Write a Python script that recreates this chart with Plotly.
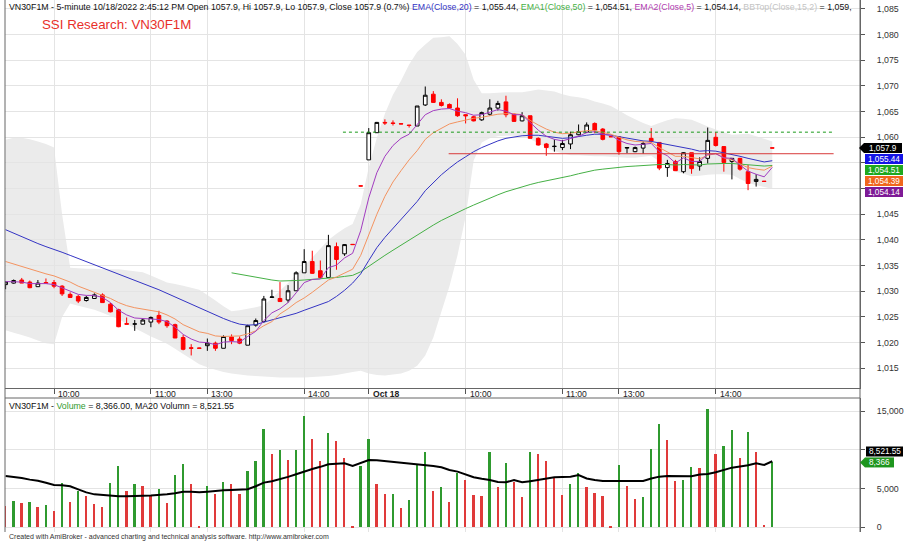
import plotly.graph_objects as go

# ---------------- data ----------------
opens = [1031.3,1031.6,1032.2,1031.8,1030.9,1031.7,1031.7,1031.0,1029.4,1029.0,
         1028.2,1028.6,1029.3,1027.5,1026.4,1023.7,1023.6,1023.6,1024.0,1025.3,
         1024.2,1023.5,1021.0,1019.0,1018.95,1019.4,1019.9,1018.9,1021.1,1020.7,
         1019.5,1023.4,1024.1,1028.8,1028.6,1028.3,1030.1,1033.6,1035.8,1034.0,
         1032.7,1038.7,1037.3,1039.15,1050.55,1055.6,1060.9,1062.9,1062.8,1062.65,
         1062.4,1062.2,1066.3,1068.4,1066.8,1066.4,1065.7,1064.4,1064.0,1063.4,
         1064.5,1065.7,1066.9,1064.5,1063.2,1064.2,1059.8,1058.7,1058.2,1058.0,
         1058.7,1060.5,1061.0,1062.7,1061.6,1060.15,1060.1,1057.9,1057.2,1057.9,
         1059.8,1059.0,1054.1,1055.3,1053.3,1057.0,1054.4,1055.9,1060.0,1058.2,
         1055.3,1055.9,1053.3,1051.4,1051.45,1057.95]
highs = [1031.9,1032.3,1032.6,1032.1,1032.2,1032.5,1032.2,1031.2,1029.8,1029.3,
         1029.1,1029.6,1029.6,1027.7,1026.6,1024.9,1024.4,1024.7,1025.1,1026.2,
         1024.4,1023.7,1021.5,1019.7,1019.0,1020.8,1020.2,1021.4,1021.6,1021.2,
         1023.5,1024.7,1029.1,1030.3,1031.8,1031.2,1033.9,1038.2,1037.9,1036.0,
         1041.0,1039.5,1039.2,1039.2,1050.55,1061.8,1063.0,1063.5,1063.3,1062.65,
         1062.4,1066.1,1069.9,1069.0,1067.4,1066.6,1067.6,1064.5,1064.2,1065.0,
         1067.4,1067.1,1068.1,1064.7,1064.9,1064.2,1060.0,1058.9,1059.6,1059.5,
         1061.1,1062.5,1062.9,1062.9,1061.8,1060.15,1060.1,1058.1,1058.2,1059.2,
         1061.8,1059.0,1055.6,1055.6,1057.1,1057.0,1056.1,1061.9,1061.0,1058.2,
         1055.9,1056.0,1054.6,1052.8,1051.45,1057.95]
lows = [1030.4,1031.5,1031.6,1030.6,1030.9,1031.6,1030.6,1029.1,1028.7,1027.7,
        1028.0,1028.5,1027.8,1025.9,1023.0,1023.6,1022.3,1023.5,1023.0,1023.6,
        1022.9,1020.9,1018.5,1017.5,1018.9,1018.4,1018.4,1018.9,1019.7,1019.7,
        1019.5,1023.1,1023.9,1028.8,1028.0,1027.8,1030.1,1033.6,1033.4,1032.5,
        1032.7,1034.2,1036.9,1039.1,1050.5,1055.6,1060.9,1062.4,1062.3,1062.6,
        1061.9,1062.2,1066.1,1066.7,1066.0,1065.6,1064.0,1062.7,1063.1,1063.2,
        1064.2,1065.2,1063.9,1063.0,1063.1,1059.8,1058.4,1056.4,1057.2,1057.5,
        1057.7,1060.4,1060.9,1060.8,1059.4,1060.1,1056.6,1056.9,1057.1,1056.8,
        1058.9,1053.6,1052.3,1053.5,1053.0,1052.9,1053.5,1054.9,1058.2,1053.3,
        1051.8,1053.5,1049.7,1050.4,1051.4,1057.9]
closes = [1031.8,1032.1,1031.6,1030.7,1031.6,1031.6,1031.0,1029.5,1028.8,1028.1,
          1028.8,1029.3,1027.8,1026.0,1023.1,1023.6,1023.65,1024.4,1024.9,1024.0,
          1023.3,1020.9,1018.7,1018.9,1018.9,1019.9,1018.9,1021.2,1020.4,1019.9,
          1023.3,1024.3,1028.5,1028.9,1028.0,1030.1,1033.6,1035.8,1033.5,1032.7,
          1038.9,1036.2,1039.1,1039.1,1050.5,1060.9,1062.9,1062.8,1062.7,1062.6,
          1062.3,1066.1,1068.2,1066.8,1066.2,1065.7,1064.2,1064.2,1063.2,1064.8,
          1065.7,1066.6,1064.4,1063.1,1064.2,1059.8,1058.5,1058.0,1058.25,1058.8,
          1060.5,1061.1,1062.4,1061.4,1059.6,1060.1,1057.2,1058.0,1058.0,1058.8,
          1059.2,1054.0,1054.9,1053.5,1057.0,1053.9,1055.3,1059.4,1058.4,1055.1,
          1055.9,1053.8,1051.0,1051.8,1051.4,1057.9]
volumes = [2751,3396,3095,3224,2579,2837,2107,5675,3310,4686,
           4041,2966,2665,5761,7867,4686,5589,5331,4170,4901,
           3181,6749,8125,5589,172,5331,4299,5804,5589,4342,
           7265,8555,12682,9501,9931,8684,9974,14359,11349,8555,
           12123,11091,8899,215,7953,11435,5546,4299,4342,2450,
           3525,8168,9716,4729,5202,3310,7050,6148,4170,4041,
           9759,5202,8297,5890,3869,9716,9501,8555,6320,4170,
           5546,6964,5202,4428,4041,40,7996,5374,3697,3955,
           10103,13327,11263,6019,6105,7781,7652,15261,9415,10447,
           12596,8942,12252,9716,300,8366]
vol_ma20 = [6620,6500,6350,6150,6000,5750,5460,5420,5300,4900,
            4500,4250,4150,4000,3990,4000,4080,4080,4090,4150,
            4256,4400,4580,4600,4514,4600,4729,4770,4815,4860,
            4901,5300,5761,5950,6200,6500,6835,7200,7523,7800,
            8125,8200,8254,7910,8254,8684,8650,8555,8450,8350,
            8250,8168,8050,7910,7738,7400,7179,6800,6449,6250,
            6105,5850,5804,6105,5804,5950,6105,6250,6449,6500,
            6535,6749,6300,6100,5976,5976,5976,5976,5976,5976,
            6300,6535,6620,6600,6535,6600,6800,6878,7100,7394,
            7695,7850,8000,8254,8039,8521.55]
ema20 = [1042.0,1041.3,1040.6,1039.9,1039.3,1038.7,1038.2,1037.6,1037.0,1036.4,
         1035.8,1035.2,1034.6,1034.0,1033.4,1032.8,1032.2,1031.5,1030.9,1030.3,
         1029.6,1028.9,1028.2,1027.4,1026.7,1026.0,1025.3,1024.7,1024.1,1023.6,
         1023.4,1023.5,1024.0,1024.4,1024.8,1025.2,1025.7,1026.3,1026.9,1027.4,
         1028.0,1029.0,1030.2,1031.6,1033.4,1036.0,1038.5,1040.5,1042.2,1044.0,
         1045.8,1047.5,1049.6,1051.2,1052.7,1054.0,1055.2,1056.2,1057.2,1058.0,
         1058.7,1059.3,1059.8,1060.1,1060.3,1060.4,1060.4,1060.2,1060.0,1059.8,
         1059.9,1060.2,1060.4,1060.6,1060.6,1060.4,1060.1,1059.8,1059.5,1059.3,
         1059.2,1058.9,1058.6,1058.4,1058.1,1057.7,1057.3,1057.4,1057.3,1057.0,
         1056.7,1056.3,1055.9,1055.5,1055.2,1055.44]
ema10 = [1035.8,1035.3,1034.8,1034.3,1033.9,1033.4,1033.0,1032.4,1031.8,1031.0,
         1030.4,1029.9,1029.3,1028.6,1027.8,1027.2,1026.8,1026.5,1026.3,1026.0,
         1025.4,1024.6,1023.5,1022.8,1022.1,1021.8,1021.3,1021.2,1021.2,1021.3,
         1021.7,1022.3,1023.3,1024.1,1025.6,1026.6,1027.8,1028.7,1029.8,1031.0,
         1032.2,1032.8,1033.5,1034.3,1037.0,1041.2,1045.0,1048.5,1051.3,1053.5,
         1055.6,1057.4,1059.6,1060.9,1061.8,1062.6,1063.0,1063.4,1063.7,1063.9,
         1064.2,1064.5,1064.6,1064.6,1064.4,1063.3,1062.4,1061.6,1061.0,1060.7,
         1060.8,1061.0,1061.3,1061.3,1060.9,1060.6,1060.0,1059.5,1059.2,1059.1,
         1059.0,1058.0,1057.1,1056.3,1056.3,1056.0,1055.8,1056.5,1056.8,1056.0,
         1055.6,1054.8,1054.1,1053.8,1053.6,1054.39]
ema5 = [1031.9,1031.9,1031.8,1031.5,1031.5,1031.5,1031.3,1030.7,1030.1,1029.4,
        1029.2,1029.2,1028.8,1027.8,1026.3,1025.4,1024.8,1024.7,1024.7,1024.5,
        1024.1,1023.0,1021.6,1020.7,1020.1,1020.0,1019.6,1020.1,1020.2,1020.1,
        1021.2,1022.2,1024.3,1025.8,1026.6,1027.8,1029.7,1031.7,1032.3,1032.4,
        1034.6,1035.1,1036.5,1037.4,1041.8,1048.2,1053.1,1056.3,1058.4,1059.8,
        1060.6,1062.5,1064.4,1065.2,1065.5,1065.6,1065.1,1064.8,1064.3,1064.4,
        1064.9,1065.4,1065.1,1064.4,1064.4,1062.8,1061.4,1060.2,1059.6,1059.3,
        1059.7,1060.2,1060.9,1061.1,1060.6,1060.4,1059.4,1058.8,1058.5,1058.6,
        1058.8,1057.2,1056.4,1055.0,1056.0,1055.3,1055.3,1056.7,1056.8,1056.0,
        1055.9,1054.6,1053.4,1052.8,1052.3,1054.14]
ema50 = [None]*28 + [
        1033.6,1033.3,1033.0,1032.7,1032.5,1032.2,1032.0,1032.0,1032.1,1032.2,
        1032.3,1032.4,1032.5,1032.7,1032.9,1033.1,1033.8,1034.9,1036.0,1037.0,
        1038.0,1039.0,1039.9,1040.9,1042.0,1042.9,1043.8,1044.6,1045.4,1046.1,
        1046.8,1047.5,1048.2,1048.8,1049.4,1049.9,1050.4,1050.8,1051.2,1051.5,
        1051.9,1052.2,1052.5,1052.9,1053.3,1053.6,1053.8,1054.0,1054.1,1054.3,
        1054.4,1054.5,1054.7,1054.7,1054.7,1054.6,1054.7,1054.6,1054.6,1054.8,
        1054.9,1054.9,1054.9,1054.8,1054.6,1054.5,1054.4,1054.51]
bb_top = [1059.5,1059.9,1059.9,1059.6,1059.2,1058.7,1058.0,1045.0,1034.6,1034.5,
          1034.4,1034.4,1034.3,1034.3,1034.3,1034.1,1033.9,1033.7,1033.1,1032.4,
          1031.7,1031.4,1031.1,1030.7,1030.3,1029.3,1028.2,1027.1,1026.1,1026.3,
          1026.6,1026.9,1027.3,1028.6,1030.1,1031.6,1033.2,1034.9,1036.6,1038.3,
          1040.0,1041.2,1042.3,1043.1,1046.9,1054.1,1059.9,1064.6,1068.3,1071.0,
          1074.2,1076.6,1078.1,1079.4,1079.5,1079.7,1078.2,1076.1,1071.2,1068.6,
          1068.6,1068.7,1068.8,1068.8,1068.8,1069.0,1069.3,1069.1,1068.9,1068.4,
          1068.0,1067.8,1067.5,1067.0,1066.6,1066.1,1065.2,1064.3,1063.5,1062.8,
          1062.2,1062.8,1063.3,1063.7,1063.6,1063.4,1062.8,1062.1,1061.5,1061.0,
          1060.5,1060.6,1060.7,1060.2,1059.7,1059.2]
bb_bot = [1022.4,1021.9,1021.5,1021.0,1020.4,1019.9,1019.7,1025.0,1027.6,1027.2,
          1026.8,1026.4,1025.8,1025.2,1024.6,1023.7,1022.8,1022.0,1021.2,1020.5,
          1019.8,1018.8,1017.8,1016.8,1015.8,1015.2,1014.7,1014.3,1014.0,1013.8,
          1013.6,1013.5,1013.4,1013.3,1013.2,1013.2,1013.2,1013.2,1013.3,1013.4,
          1013.5,1013.7,1014.0,1014.3,1014.5,1014.0,1013.7,1013.6,1013.8,1014.0,
          1014.5,1015.5,1017.5,1021.0,1026.0,1031.0,1037.0,1044.5,1055.5,1059.0,
          1059.8,1060.2,1060.3,1060.3,1060.2,1059.6,1058.9,1058.0,1057.3,1056.9,
          1056.5,1056.5,1056.4,1056.3,1056.3,1056.2,1056.1,1056.0,1056.0,1056.2,
          1056.4,1055.3,1054.3,1053.3,1052.9,1052.4,1052.5,1052.7,1052.8,1052.8,
          1052.7,1051.9,1051.1,1050.7,1050.3,1050.0]
green_level = 1061.0      # dotted horizontal trendline
red_level = 1056.8        # solid horizontal trendline
green_span = [41.8, 102.5]
red_span = [54.9, 102.6]
price_ticks = [1015,1020,1025,1030,1035,1040,1045,1050,1055,1060,1065,1070,1075,1080,1085]
price_hidden = [1050, 1055]          # labels covered by value boxes in the reference
vol_ticks = [0, 5000, 10000, 15000]
vol_hidden = [10000]
time_tick_idx = [6, 18, 25, 37, 45, 57, 69, 76, 88]
time_tick_labels = ["10:00", "11:00", "13:00", "14:00", "<b>Oct 18</b>", "10:00", "11:00", "13:00", "14:00"]

x = list(range(len(closes)))

# ---------------- geometry ----------------
W, H = 908, 545
ML, MR, MT, MB = 5, 48, 0, 13
PW = W - ML - MR
PH = H - MT - MB
def yp(pix):  # pixel row -> paper
    return (PH - (pix - MT)) / PH
def xp(pix):
    return (pix - ML) / PW
MAIN_DOM = [yp(388), 1.0]
VOL_DOM = [0.0, yp(398)]
PR = [1011.16, 1086.75]
VR = [-606, 16677]
XR = [-0.074, 105.87]
def price_pix(p):
    return MT + (PR[1] - p) / (PR[1] - PR[0]) * 388
def vol_pix(v):
    return 398 + (VR[1] - v) / (VR[1] - VR[0]) * (PH - 398 + MT)

FONT = "Liberation Sans, Arial, sans-serif"
GRID = "#e4e4e4"
C_BLUE, C_GREEN, C_PURPLE, C_ORANGE = "#3434c4", "#45b045", "#a23cc0", "#f39360"

fig = go.Figure()
shapes = []

# Bollinger cloud as a filled path below everything
pts = [f"{i},{v}" for i, v in zip(x, bb_top)] + [f"{i},{v}" for i, v in zip(x[::-1], bb_bot[::-1])]
shapes.append(dict(type="path", xref="x", yref="y", layer="below",
                   path="M " + " L ".join(pts) + " Z",
                   fillcolor="#ebebeb", line=dict(width=0)))

# candles
fig.add_trace(go.Candlestick(
    x=x, open=opens, high=highs, low=lows, close=closes,
    increasing=dict(line=dict(color="black", width=1), fillcolor="white"),
    decreasing=dict(line=dict(color="#ff0000", width=1), fillcolor="#ff0000"),
    whiskerwidth=0, showlegend=False, hoverinfo="skip", xaxis="x", yaxis="y"))

# EMAs
for ser, col in [(ema50, C_GREEN), (ema20, C_BLUE), (ema10, C_ORANGE), (ema5, C_PURPLE)]:
    fig.add_trace(go.Scatter(x=x, y=ser, mode="lines", line=dict(width=1, color=col),
                             showlegend=False, xaxis="x", yaxis="y"))

# trend lines
fig.add_trace(go.Scatter(x=green_span, y=[green_level]*2, mode="lines",
                         line=dict(width=1, color="#1a9a1a", dash="dot"), showlegend=False))
fig.add_trace(go.Scatter(x=red_span, y=[red_level]*2, mode="lines",
                         line=dict(width=1, color="#d83a3a"), showlegend=False))

# volume
vcols = ["#e03a3a"] + ["#2f9a2f" if volumes[i] > volumes[i-1] else "#e03a3a" for i in range(1, len(volumes))]
fig.add_trace(go.Bar(x=x, y=volumes, width=0.22, marker=dict(color=vcols, line=dict(width=0)),
                     showlegend=False, xaxis="x2", yaxis="y2"))
fig.add_trace(go.Scatter(x=x, y=vol_ma20, mode="lines", line=dict(width=2, color="black"),
                         showlegend=False, xaxis="x2", yaxis="y2"))

tick_fmt = lambda v, hidden: "" if v in hidden else f"{v:,}"
fig.update_layout(
    width=W, height=H, margin=dict(l=ML, r=MR, t=MT, b=MB),
    paper_bgcolor="white", plot_bgcolor="white",
    font=dict(family=FONT, size=9, color="#222"),
    xaxis=dict(domain=[0, 1], range=XR, anchor="y", tickvals=time_tick_idx, showticklabels=False,
               ticks="outside", ticklen=5, tickcolor="#555", showgrid=True, gridcolor=GRID,
               showline=True, linecolor="#666", zeroline=False, rangeslider=dict(visible=False)),
    yaxis=dict(domain=MAIN_DOM, range=PR, side="right", tickvals=price_ticks,
               ticktext=[tick_fmt(v, price_hidden) for v in price_ticks], ticks="outside", ticklen=4,
               tickcolor="#555", showgrid=True, gridcolor=GRID, showline=True, linecolor="#666",
               zeroline=False, tickfont=dict(size=8.8, color="#333"), ticklabelstandoff=10),
    xaxis2=dict(domain=[0, 1], range=XR, anchor="y2", tickvals=time_tick_idx, showticklabels=False,
                ticks="", showgrid=True, gridcolor=GRID, showline=False, zeroline=False),
    yaxis2=dict(domain=VOL_DOM, range=VR, side="right", tickvals=vol_ticks,
                ticktext=[tick_fmt(v, vol_hidden) for v in vol_ticks], ticks="outside", ticklen=4,
                tickcolor="#555", showgrid=True, gridcolor=GRID, showline=True, linecolor="#666",
                zeroline=False, tickfont=dict(size=8.8, color="#333"), ticklabelstandoff=10),
    boxgap=0.35, bargap=0,
)

# panel borders (left frame, right axis spine across both panels, panel separator)
shapes.append(dict(type="line", xref="paper", yref="paper", x0=0, x1=0, y0=0, y1=1,
                   line=dict(color="#666", width=1)))
shapes.append(dict(type="line", xref="paper", yref="paper", x0=1, x1=1, y0=0, y1=1,
                   line=dict(color="#666", width=1)))
shapes.append(dict(type="line", xref="paper", yref="paper", x0=0, x1=1, y0=VOL_DOM[1], y1=VOL_DOM[1],
                   line=dict(color="#666", width=1)))

ann = []
for ti, tl in zip(time_tick_idx, time_tick_labels):
    ann.append(dict(x=ti, y=yp(394), xref="x", yref="paper", text=tl, showarrow=False,
                    xanchor="left", yanchor="middle", xshift=2, font=dict(size=8.6, color="#222")))

title = ("VN30F1M - 5-minute 10/18/2022 2:45:12 PM Open 1057.9, Hi 1057.9, Lo 1057.9, Close 1057.9 (0.7%) "
         f"<span style='color:{C_BLUE}'>EMA(Close,20)</span> = 1,055.44, "
         f"<span style='color:{C_GREEN}'>EMA1(Close,50)</span> = 1,054.51, "
         f"<span style='color:#b03ab0'>EMA2(Close,5)</span> = 1,054.14, "
         "<span style='color:#c4c4c4'>BBTop(Close,15,2)</span> = 1,059,")
ann.append(dict(x=xp(7), y=yp(7), xref="paper", yref="paper", text=title, showarrow=False,
                xanchor="left", yanchor="middle", font=dict(size=8.8, color="#111")))
ann.append(dict(x=xp(40), y=yp(25), xref="paper", yref="paper", text="SSI Research: VN30F1M",
                showarrow=False, xanchor="left", yanchor="middle",
                font=dict(size=13.3, color="#e8302a")))
vtitle = ("VN30F1M - <span style='color:#2f9a2f'>Volume</span> = 8,366.00, MA20 Volumn = 8,521.55")
ann.append(dict(x=xp(7), y=yp(406), xref="paper", yref="paper", text=vtitle, showarrow=False,
                xanchor="left", yanchor="middle", font=dict(size=8.8, color="#111")))
ann.append(dict(x=xp(7), y=yp(537), xref="paper", yref="paper",
                text="Created with AmiBroker - advanced charting and technical analysis software. http://www.amibroker.com",
                showarrow=False, xanchor="left", yanchor="middle", font=dict(size=7, color="#333")))

def box(text, ypix, color, x_left, x_right, arrow=False):
    shapes.append(dict(type="rect", xref="paper", yref="paper", x0=xp(x_left), x1=xp(x_right),
                       y0=yp(ypix + 5), y1=yp(ypix - 5), fillcolor=color, line=dict(width=0)))
    if arrow:
        shapes.append(dict(type="path", xref="paper", yref="paper",
                           path=f"M {xp(x_left)} {yp(ypix-5)} L {xp(x_left-5)} {yp(ypix)} L {xp(x_left)} {yp(ypix+5)} Z",
                           fillcolor=color, line=dict(width=0)))
    ann.append(dict(x=xp((x_left + x_right) / 2), y=yp(ypix), xref="paper", yref="paper", text=text,
                    showarrow=False, xanchor="center", yanchor="middle",
                    font=dict(size=8.2, color="white")))

last_close = closes[-1]
y0 = price_pix(last_close)
box(f"{last_close:,.1f}", y0, "#000000", 864, 902, arrow=True)
for k, (val, col) in enumerate([(ema20[-1], "#1414e6"), (ema50[-1], "#1ea81e"),
                                (ema10[-1], "#f0661c"), (ema5[-1], "#7e1a96")]):
    box(f"{val:,.2f}", y0 + 11 * (k + 1), col, 865, 903)

vy = vol_pix(volumes[-1])
box(f"{vol_ma20[-1]:,.2f}", vy - 11, "#000000", 866, 903)
box(f"{volumes[-1]:,}", vy, "#1e961e", 865, 894, arrow=True)

fig.update_layout(shapes=shapes, annotations=ann)
fig.write_html("out.html")
